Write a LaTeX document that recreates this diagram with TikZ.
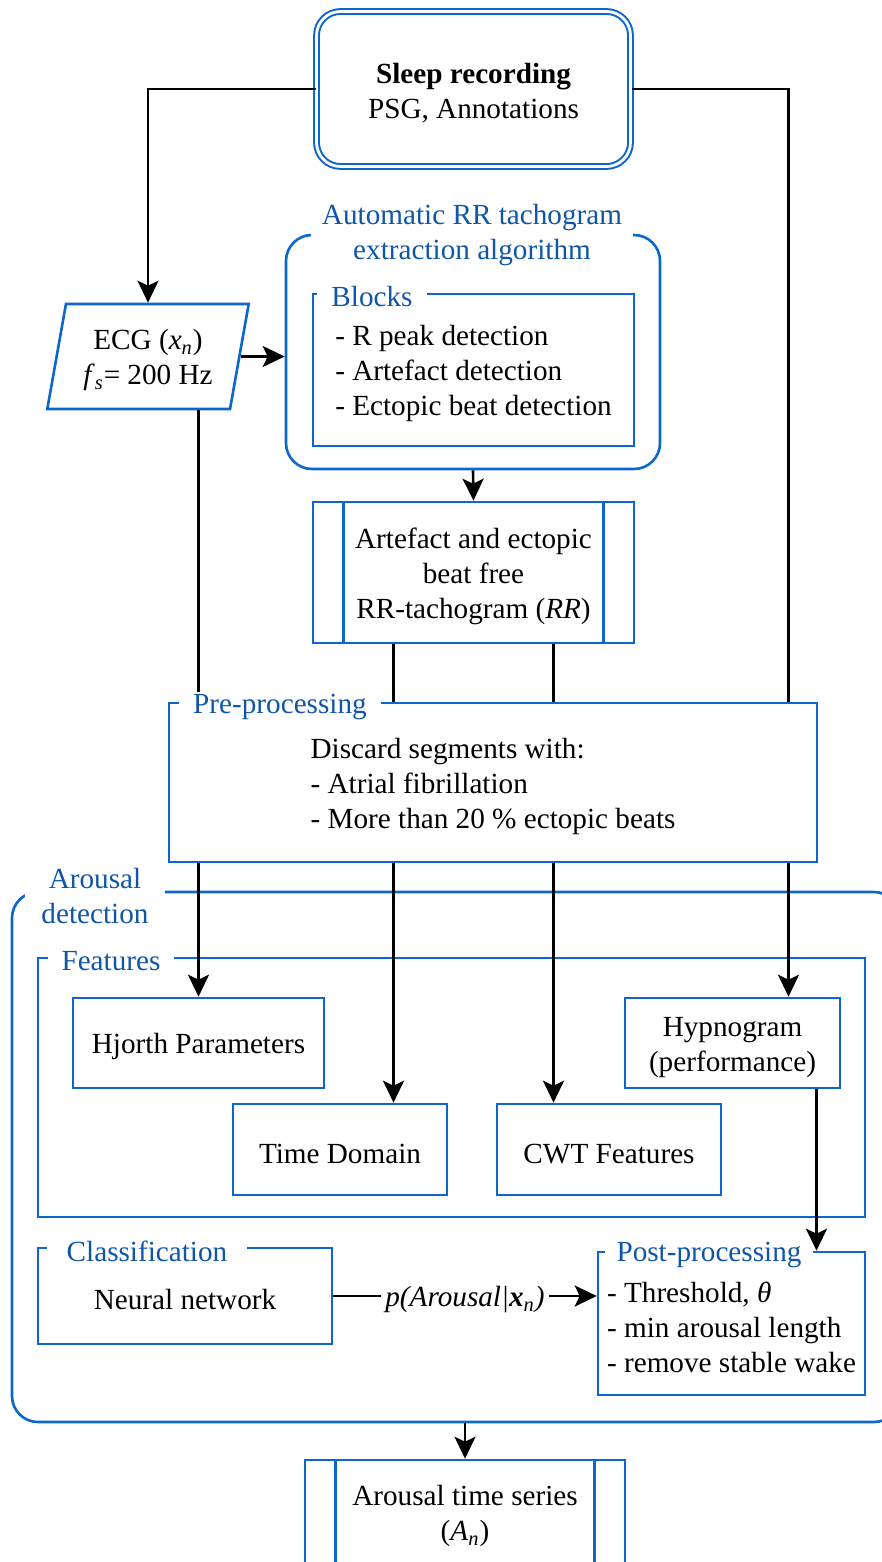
\documentclass[tikz,border=0pt]{standalone}
\usepackage{fontspec}
\setmainfont{Liberation Serif}
\usetikzlibrary{positioning, arrows.meta, shapes.geometric}

\definecolor{lineblue}{RGB}{12,102,204}
\definecolor{textblue}{RGB}{16,86,168}

% invisible strut that sets the first line a little lower
\newcommand{\topgap}{\rule{0pt}{14pt}}

\tikzset{
  box/.style={draw=lineblue, line width=1.3pt, rectangle, inner sep=0pt, align=center,
    execute at begin node={\topgap}},
  group/.style={box, rounded corners=13pt},
  tag/.style={fill=white, text=textblue, inner xsep=7pt, inner ysep=1pt, align=center},
  arr/.style={-{Stealth[length=11pt, width=10.5pt, inset=2.5pt]}, line width=1.3pt},
}

\begin{document}
\begin{tikzpicture}[x=0.5pt, y=-0.5pt, font=\fontsize{14.6}{17.5}\selectfont]
  \useasboundingbox (0,0) rectangle (882,1562);

  % Containers
  \node[group, minimum width=444pt, minimum height=265pt] (arousal) at (456,1157) {};
  \node[box, minimum width=413.5pt, minimum height=129.5pt] (feat) at (451.5,1087.5) {};
  \node[group, minimum width=187pt, minimum height=117pt] (auto) at (473,352) {};
  \node[box, align=left, minimum width=160.5pt, minimum height=76pt] (blocks) at (473.5,370)
    {\topgap- R peak detection\\- Artefact detection\\- Ectopic beat detection};

  % Input
  \node[box, rounded corners=12pt, line width=1pt, double=white, double distance=1.4pt,
    minimum width=157pt, minimum height=77.5pt] (sleep) at (473.5,89)
    {\topgap\textbf{Sleep recording}\\PSG, Annotations};
  \node[box, shape=trapezium, trapezium left angle=78, trapezium right angle=102,
    trapezium stretches=true, minimum width=101.5pt, minimum height=52.5pt] (ecg) at (148,356.5)
    {\topgap ECG (\textit{x}\textsubscript{\textit{n}})\\\textit{f}\textsubscript{\textit{s}}= 200 Hz};

  % RR tachogram
  \node[box, minimum width=160.5pt, minimum height=70.5pt] (rr) at (473.5,572.5)
    {\topgap Artefact and ectopic\\beat free\\RR-tachogram (\textit{RR})};
  \draw[lineblue, line width=1.3pt] ([xshift=16pt]rr.north west) -- ([xshift=16pt]rr.south west)
    ([xshift=-16pt]rr.north east) -- ([xshift=-16pt]rr.south east);

  % Features
  \node[box, minimum width=125.5pt, minimum height=45pt] (hjorth) at (198.5,1043) {Hjorth Parameters};
  \node[box, minimum width=107pt, minimum height=45.5pt] (tdom) at (340,1149.5) {Time Domain};
  \node[box, minimum width=112pt, minimum height=45.5pt] (cwt) at (609,1149.5) {CWT Features};
  \node[box, minimum width=107.5pt, minimum height=45pt] (hypno) at (732.5,1043)
    {\topgap Hypnogram\\(performance)};

  % Classification and post-processing
  \node[box, minimum width=147pt, minimum height=48pt] (clf) at (185,1296) {Neural network};
  \node[box, align=left, minimum width=133.5pt, minimum height=71.5pt] (post) at (731.5,1323.5)
    {\topgap- Threshold, \textit{θ}\\- min arousal length\\- remove stable wake};

  % Output
  \node[box, minimum width=160pt, minimum height=52.5pt] (out) at (465,1512.5)
    {\topgap Arousal time series\\(\textit{A}\textsubscript{\textit{n}})};
  \draw[lineblue, line width=1.3pt] ([xshift=16pt]out.north west) -- ([xshift=16pt]out.south west)
    ([xshift=-16pt]out.north east) -- ([xshift=-16pt]out.south east);

  % Signal lines behind pre-processing
  \draw[arr] (sleep.west) -| (ecg.north);
  \draw[arr] (sleep.east) -| ([xshift=28pt]hypno.north);
  \draw[arr] (ecg.south -| hjorth.north) -- (hjorth.north);
  \draw[arr] ([xshift=-40pt]rr.south) -- ([xshift=-40pt]rr.south |- tdom.north);
  \draw[arr] ([xshift=40pt]rr.south) -- ([xshift=40pt]rr.south |- cwt.north);

  % Pre-processing
  \node[box, fill=white, align=left, minimum width=324pt, minimum height=79.5pt] (pre) at (493,782.5)
    {\topgap Discard segments with:\\- Atrial fibrillation\\- More than 20 \% ectopic beats};

  % Group titles
  \node[tag] (pretag) at (280,707) {Pre-processing};
  \node[tag, inner xsep=5.5pt] (autotag) at (472,235) {Automatic RR tachogram\\extraction algorithm};
  \node[tag] (blockstag) at (372,297) {Blocks};
  \node[tag, inner xsep=8pt] (aroustag) at (95,896) {Arousal\\detection};
  \node[tag] (feattag) at (111,961) {Features};
  \node[tag, inner xsep=10pt] (clftag) at (147,1251) {Classification};
  \node[tag, inner xsep=6pt] (posttag) at (709,1255) {Post-processing};

  % Remaining arrows
  \draw[arr] (ecg.east) -- (ecg.east -| auto.west);
  \draw[arr] (auto.south) -- (rr.north);
  \draw[arr] ([xshift=42pt]hypno.south) -- ([xshift=42pt]hypno.south |- post.north);
  \draw[arr] (clf.east) -- node[fill=white, inner xsep=2pt, execute at begin node={\topgap}] (prob)
    {\textit{p(Arousal|\textbf{x}\textsubscript{n})}} (clf.east -| post.west);
  \draw[arr] (out.north |- arousal.south) -- (out.north);
\end{tikzpicture}
\end{document}
